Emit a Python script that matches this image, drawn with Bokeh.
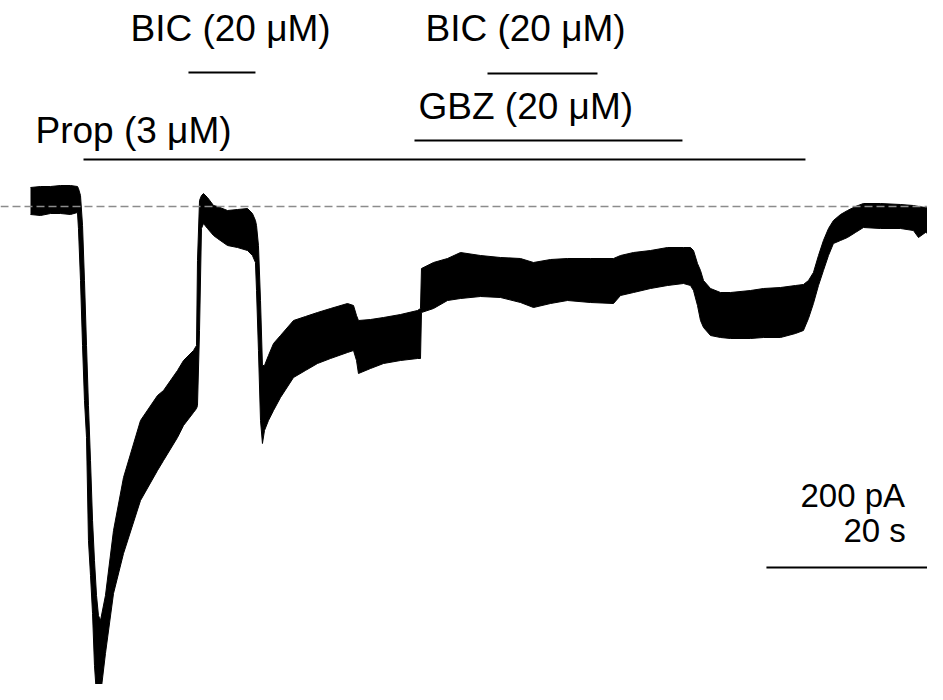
from bokeh.plotting import figure
from bokeh.models import Range1d, Span, ColumnDataSource
from bokeh.core.properties import value
from bokeh.embed import file_html
from bokeh.resources import INLINE

# ---- membrane current trace envelope (time in s, current in pA) ----
time_s = [0.00, 1.13, 2.26, 3.39, 4.52, 5.31, 5.42, 5.65, 5.88, 6.10, 6.33, 6.55, 6.78,
          7.01, 7.23, 7.46, 7.68, 7.91, 8.47, 9.38, 10.51, 12.43, 14.35, 15.03, 16.61,
          17.29, 18.42, 18.76, 18.87, 19.10, 19.32, 19.55, 20.00, 20.68, 21.13, 22.26,
          23.39, 24.52, 25.08, 25.42, 25.54, 25.76, 25.99, 26.21, 26.44, 26.89, 27.46,
          28.25, 29.72, 31.07, 32.43, 33.90, 35.82, 36.50, 36.84, 37.06, 38.42, 39.89,
          41.81, 43.73, 44.07, 44.18, 45.54, 47.12, 48.59, 50.85, 53.11, 55.37, 56.84,
          58.76, 60.68, 63.28, 65.88, 66.67, 68.14, 70.06, 71.98, 73.79, 74.58, 74.92,
          75.37, 75.71, 76.05, 76.84, 77.97, 79.10, 81.36, 82.82, 84.75, 86.44, 87.34,
          87.91, 88.47, 89.04, 89.60, 90.17, 90.73, 91.53, 92.32, 93.22, 94.12, 96.05,
          98.31, 99.77, 100.34, 101.13, 103.16]
upper_pA = [38, 40, 40, 42, 42, 40, 36, 22, -38, -148, -278, -398, -508,
            -628, -708, -778, -818, -828, -778, -648, -542, -428, -378, -368, -328,
            -308, -288, -278, -108, 12, 22, 26, 18, 2, 0, -8,
            -6, -4, -14, -28, -38, -78, -188, -318, -318, -298, -274,
            -258, -228, -220, -212, -204, -194, -198, -218, -228, -226, -222,
            -216, -208, -204, -124, -112, -104, -92, -98, -102, -104, -112,
            -106, -104, -104, -104, -98, -92, -88, -82, -82, -82, -88,
            -114, -128, -148, -164, -172, -172, -168, -164, -162, -158, -156,
            -148, -132, -98, -68, -44, -28, -16, -8, 0, 6, 6,
            4, 2, 0, -2, -8]
lower_pA = [-16, -18, -14, -14, -16, -12, -44, -148, -278, -388, -462, -668, -738,
            -814, -918, -978, -982, -978, -894, -774, -694, -588, -528, -508, -462,
            -438, -412, -404, -398, -248, -44, -34, -44, -58, -64, -78,
            -82, -88, -98, -112, -168, -288, -428, -474, -448, -428, -408,
            -382, -342, -328, -314, -304, -292, -288, -308, -334, -324, -314,
            -308, -304, -304, -212, -204, -188, -184, -180, -182, -192, -202,
            -194, -188, -192, -194, -178, -172, -164, -158, -154, -158, -168,
            -198, -228, -242, -258, -262, -264, -264, -262, -262, -254, -248,
            -224, -194, -158, -128, -98, -74, -68, -62, -52, -42, -44,
            -44, -48, -62, -52, -64]

# ---- drug application bars ----
drug_labels = ["BIC (20 \u03bcM)", "BIC (20 \u03bcM)", "GBZ (20 \u03bcM)", "Prop (3 \u03bcM)"]
drug_start_s = [17.85, 51.64, 43.39, 5.99]
drug_end_s = [25.42, 64.07, 73.67, 87.57]
drug_bar_pA = [268, 266, 132, 94]
label_x_s = [11.30, 44.63, 43.84, 0.56]
label_y_pA = [356, 356, 200, 152]

# ---- scale bar ----
scale_labels = ["200 pA", "20 s"]
scale_label_x_s = [87.01, 91.86]
scale_label_y_pA = [-578, -648]
scale_bar_start_s = [83.16]
scale_bar_end_s = [103.16]
scale_bar_pA = [-722]

p = figure(width=927, height=684, x_range=Range1d(-3.39, 101.36), y_range=Range1d(-956, 412),
           output_backend="svg", toolbar_location=None, min_border=0,
           x_axis_type=None, y_axis_type=None)
p.grid.visible = False
p.outline_line_color = None
p.background_fill_color = "white"

p.add_layout(Span(location=0, dimension="width", line_color="#8c8c8c",
                  line_width=1.3, line_dash="8 4"))

trace = ColumnDataSource(dict(t=time_s, up=upper_pA, lo=lower_pA))
p.varea(x="t", y1="lo", y2="up", source=trace, fill_color="black")
p.line(x="t", y="up", source=trace, line_color="black", line_width=1)
p.line(x="t", y="lo", source=trace, line_color="black", line_width=1)

bars = ColumnDataSource(dict(x0=drug_start_s, x1=drug_end_s, y=drug_bar_pA))
p.segment(x0="x0", y0="y", x1="x1", y1="y", source=bars, line_color="black", line_width=2)

labels = ColumnDataSource(dict(x=label_x_s, y=label_y_pA, text=drug_labels))
p.text(x="x", y="y", text="text", source=labels, text_font=value("Liberation Sans"),
       text_font_size="37px", text_baseline="alphabetic", text_align="left", text_color="black")

sb = ColumnDataSource(dict(x0=scale_bar_start_s, x1=scale_bar_end_s, y=scale_bar_pA))
p.segment(x0="x0", y0="y", x1="x1", y1="y", source=sb, line_color="black", line_width=2)

sl = ColumnDataSource(dict(x=scale_label_x_s, y=scale_label_y_pA, text=scale_labels))
p.text(x="x", y="y", text="text", source=sl, text_font=value("Liberation Sans"),
       text_font_size="33px", text_baseline="alphabetic", text_align="left", text_color="black")

open("out.html", "w").write(file_html(p, INLINE))
